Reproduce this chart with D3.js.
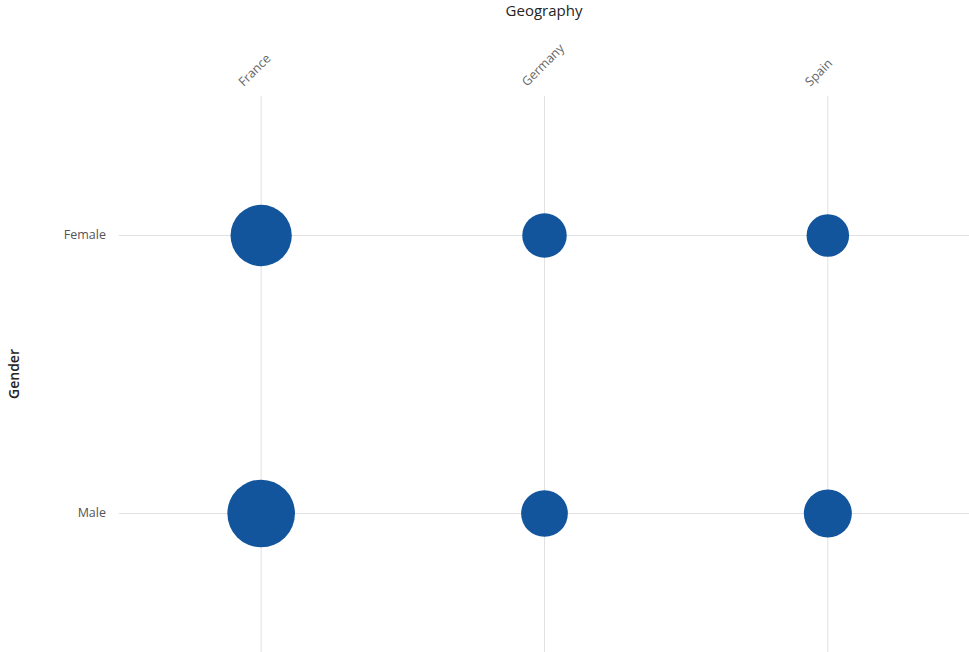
<!DOCTYPE html>
<html>
<head>
<meta charset="utf-8">
<script src="https://cdn.jsdelivr.net/npm/d3@7"></script>
<style>
  html, body { margin: 0; padding: 0; background: #fff; }
  svg { display: block; font-family: "Segoe UI", "Open Sans", "Noto Sans", sans-serif; }
</style>
</head>
<body>
<svg id="chart" width="969" height="652"></svg>
<script>
// Customer counts by geography and gender
const geographies = ["France", "Germany", "Spain"];
const genders = ["Female", "Male"];
const femaleCounts = [2261, 1193, 1089];
const maleCounts = [2753, 1316, 1388];

const xTitle = "Geography";
const yTitle = "Gender";

const width = 969, height = 652;
const plot = { left: 119, right: 969, top: 96, bottom: 652 };

const svg = d3.select("#chart");

const x = d3.scalePoint().domain(geographies).range([plot.left, plot.right]).padding(0.5);
const y = d3.scalePoint().domain(genders).range([plot.top, plot.bottom]).padding(0.5);

const cells = [];
geographies.forEach((g, i) => {
  cells.push({ geo: g, gender: "Female", value: femaleCounts[i] });
  cells.push({ geo: g, gender: "Male", value: maleCounts[i] });
});

const r = d3.scaleSqrt().domain([0, d3.max(cells, d => d.value)]).range([0, 33.8]);

// gridlines
svg.append("g").selectAll("line").data(geographies).join("line")
  .attr("x1", d => x(d) + 0.5).attr("x2", d => x(d) + 0.5)
  .attr("y1", plot.top).attr("y2", plot.bottom)
  .attr("stroke", "#e1e1e1").attr("stroke-width", 1);

svg.append("g").selectAll("line").data(genders).join("line")
  .attr("x1", plot.left).attr("x2", plot.right)
  .attr("y1", d => y(d) + 0.5).attr("y2", d => y(d) + 0.5)
  .attr("stroke", "#e1e1e1").attr("stroke-width", 1);

// top category labels
svg.append("g").selectAll("text").data(geographies).join("text")
  .attr("transform", d => `translate(${x(d) - 17},${87}) rotate(-45)`)
  .attr("text-anchor", "start")
  .attr("font-size", 12.5)
  .attr("fill", "#666666")
  .text(d => d);

// left category labels
svg.append("g").selectAll("text").data(genders).join("text")
  .attr("x", 106).attr("y", d => y(d))
  .attr("dy", "0.35em")
  .attr("text-anchor", "end")
  .attr("font-size", 12.5)
  .attr("fill", "#555555")
  .text(d => d);

// axis titles
svg.append("text")
  .attr("x", x(geographies[1])).attr("y", 16)
  .attr("text-anchor", "middle")
  .attr("font-size", 15)
  .attr("fill", "#252423")
  .text(xTitle);

svg.append("text")
  .attr("transform", `translate(19,${(plot.top + plot.bottom) / 2}) rotate(-90)`)
  .attr("text-anchor", "middle")
  .attr("font-size", 14)
  .attr("font-weight", 600)
  .attr("fill", "#252423")
  .text(yTitle);

// bubbles
svg.append("g").selectAll("circle").data(cells).join("circle")
  .attr("cx", d => x(d.geo) + 0.5)
  .attr("cy", d => y(d.gender) + 0.5)
  .attr("r", d => r(d.value))
  .attr("fill", "#12559c");
</script>
</body>
</html>
